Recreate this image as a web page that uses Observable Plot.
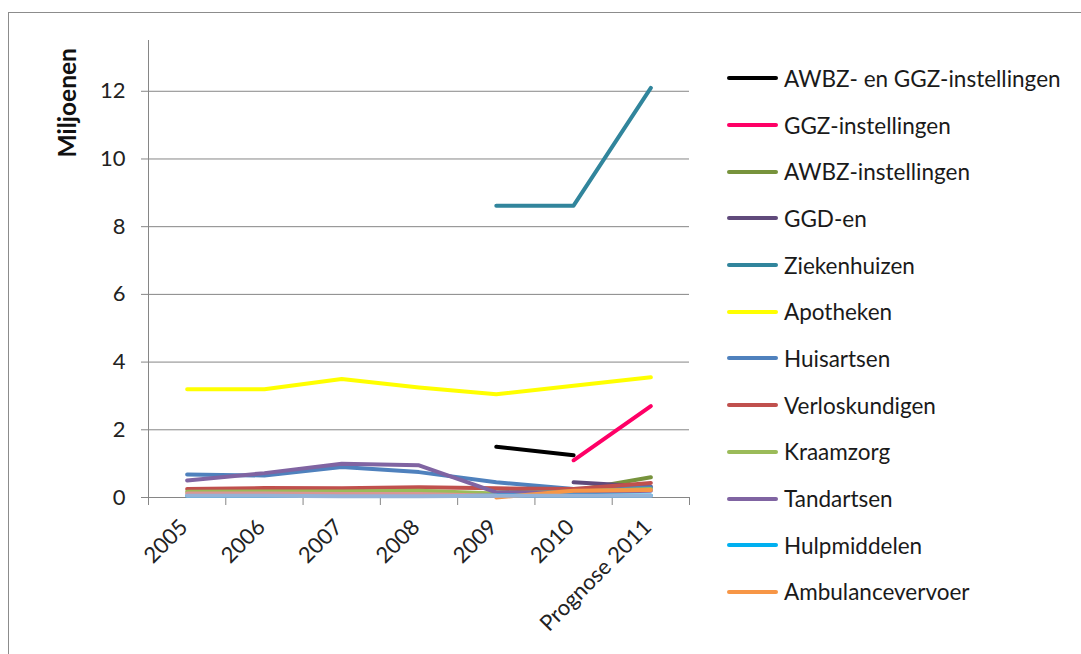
<!DOCTYPE html>
<html>
<head>
<meta charset="utf-8">
<script src="https://cdn.jsdelivr.net/npm/d3@7"></script>
<script src="https://cdn.jsdelivr.net/npm/@observablehq/plot@0.6"></script>
<style>
  html, body { margin: 0; padding: 0; background: #fff; overflow: hidden; width: 1081px; height: 654px; }
  #frame { position: absolute; left: 8px; top: 12px; width: 1100px; height: 700px; border: 1.5px solid #8c8c8c; box-sizing: border-box; }
  #chart { position: absolute; left: 0; top: 0; }
  #legend { position: absolute; left: 727px; top: 55px; font-family: Lato, "Open Sans", sans-serif; font-size: 22.5px; color: #1a1a1a; }
  .row { height: 46.7px; display: flex; align-items: center; }
  .sw { width: 51px; height: 4px; border-radius: 2px; margin-right: 6px; }
</style>
</head>
<body>
<div id="frame"></div>
<div id="chart"></div>
<div id="legend"></div>
<script>
const years = ["2005", "2006", "2007", "2008", "2009", "2010", "Prognose 2011"];
const seriesNames = ["AWBZ- en GGZ-instellingen", "GGZ-instellingen", "AWBZ-instellingen", "GGD-en", "Ziekenhuizen", "Apotheken", "Huisartsen", "Verloskundigen", "Kraamzorg", "Tandartsen", "Hulpmiddelen", "Ambulancevervoer", "extra1", "extra2"];
const seriesColors = ["#000000", "#ff0066", "#77933c", "#604a7b", "#31859c", "#ffff00", "#4f81bd", "#c0504d", "#9bbb59", "#8064a2", "#00b0f0", "#f79646", "#d99694", "#95b3d7"];
const legendCount = 12;

const awbzGgz = [null, null, null, null, 1.5, 1.25, null];
const ggz = [null, null, null, null, null, 1.1, 2.7];
const awbz = [null, null, null, null, 0.15, 0.2, 0.6];
const ggd = [null, null, null, null, null, 0.45, 0.32];
const ziekenhuizen = [null, null, null, null, 8.62, 8.62, 12.1];
const apotheken = [3.2, 3.2, 3.5, 3.25, 3.05, 3.3, 3.55];
const huisartsen = [0.68, 0.65, 0.9, 0.75, 0.45, 0.25, 0.3];
const verloskundigen = [0.25, 0.28, 0.27, 0.3, 0.27, 0.25, 0.43];
const kraamzorg = [0.17, 0.18, 0.18, 0.2, 0.12, 0.18, 0.25];
const tandartsen = [0.5, 0.72, 1.0, 0.95, 0.15, 0.15, 0.2];
const hulpmiddelen = [0.05, 0.05, 0.05, 0.05, 0.06, 0.06, 0.06];
const ambulance = [null, null, null, null, 0.0, 0.2, 0.22];
const extra1 = [0.12, 0.12, 0.1, 0.1, 0.05, null, null];
const extra2 = [0.05, 0.05, 0.04, 0.04, 0.05, 0.05, 0.05];

const yTicks = [0, 2, 4, 6, 8, 10, 12];

const allSeries = [awbzGgz, ggz, awbz, ggd, ziekenhuizen, apotheken, huisartsen, verloskundigen, kraamzorg, tandartsen, hulpmiddelen, ambulance, extra1, extra2];
const table = [];
allSeries.forEach((vals, s) => vals.forEach((v, i) => table.push({series: seriesNames[s], i, v})));

const idx = d3.range(years.length);
const bounds = d3.range(years.length + 1).map(k => k - 0.5);

const chart = Plot.plot({
  width: 700,
  height: 654,
  marginLeft: 148,
  marginRight: 11,
  marginTop: 40,
  marginBottom: 157,
  style: {fontFamily: "Lato, 'Open Sans', sans-serif", background: "transparent"},
  x: {type: "linear", domain: [-0.5, years.length - 0.5]},
  y: {domain: [0, 13.5]},
  color: {domain: seriesNames, range: seriesColors},
  marks: [
    Plot.gridY(yTicks.filter(t => t > 0), {stroke: "#868686", strokeOpacity: 1}),
    Plot.ruleY([0], {stroke: "#868686"}),
    Plot.ruleX([-0.5], {stroke: "#868686"}),
    Plot.axisY(yTicks, {tickSize: 7, tickPadding: 16, fontSize: 22, stroke: "#868686", fill: "#222", label: null}),
    Plot.axisX(bounds, {tickSize: 8, tickFormat: () => "", stroke: "#868686", label: null}),
    Plot.axisX(idx, {tickSize: 0, tickPadding: 26, dx: -3, tickRotate: -45, fontSize: 22, fill: "#222", tickFormat: i => years[i], label: null}),
    Plot.line(table, {x: "i", y: "v", z: "series", stroke: "series", strokeWidth: 4, strokeLinecap: "round", strokeLinejoin: "round"}),
    Plot.text(["Miljoenen"], {frameAnchor: "top-left", textAnchor: "start", dx: -90, dy: 117, rotate: -90, fontSize: 24.5, fontWeight: "bold", fill: "#111"})
  ]
});
document.getElementById("chart").appendChild(chart);

const legend = document.getElementById("legend");
seriesNames.slice(0, legendCount).forEach((name, k) => {
  const row = document.createElement("div");
  row.className = "row";
  const sw = document.createElement("div");
  sw.className = "sw";
  sw.style.background = seriesColors[k];
  const label = document.createElement("span");
  label.textContent = name;
  row.appendChild(sw);
  row.appendChild(label);
  legend.appendChild(row);
});
</script>
</body>
</html>
